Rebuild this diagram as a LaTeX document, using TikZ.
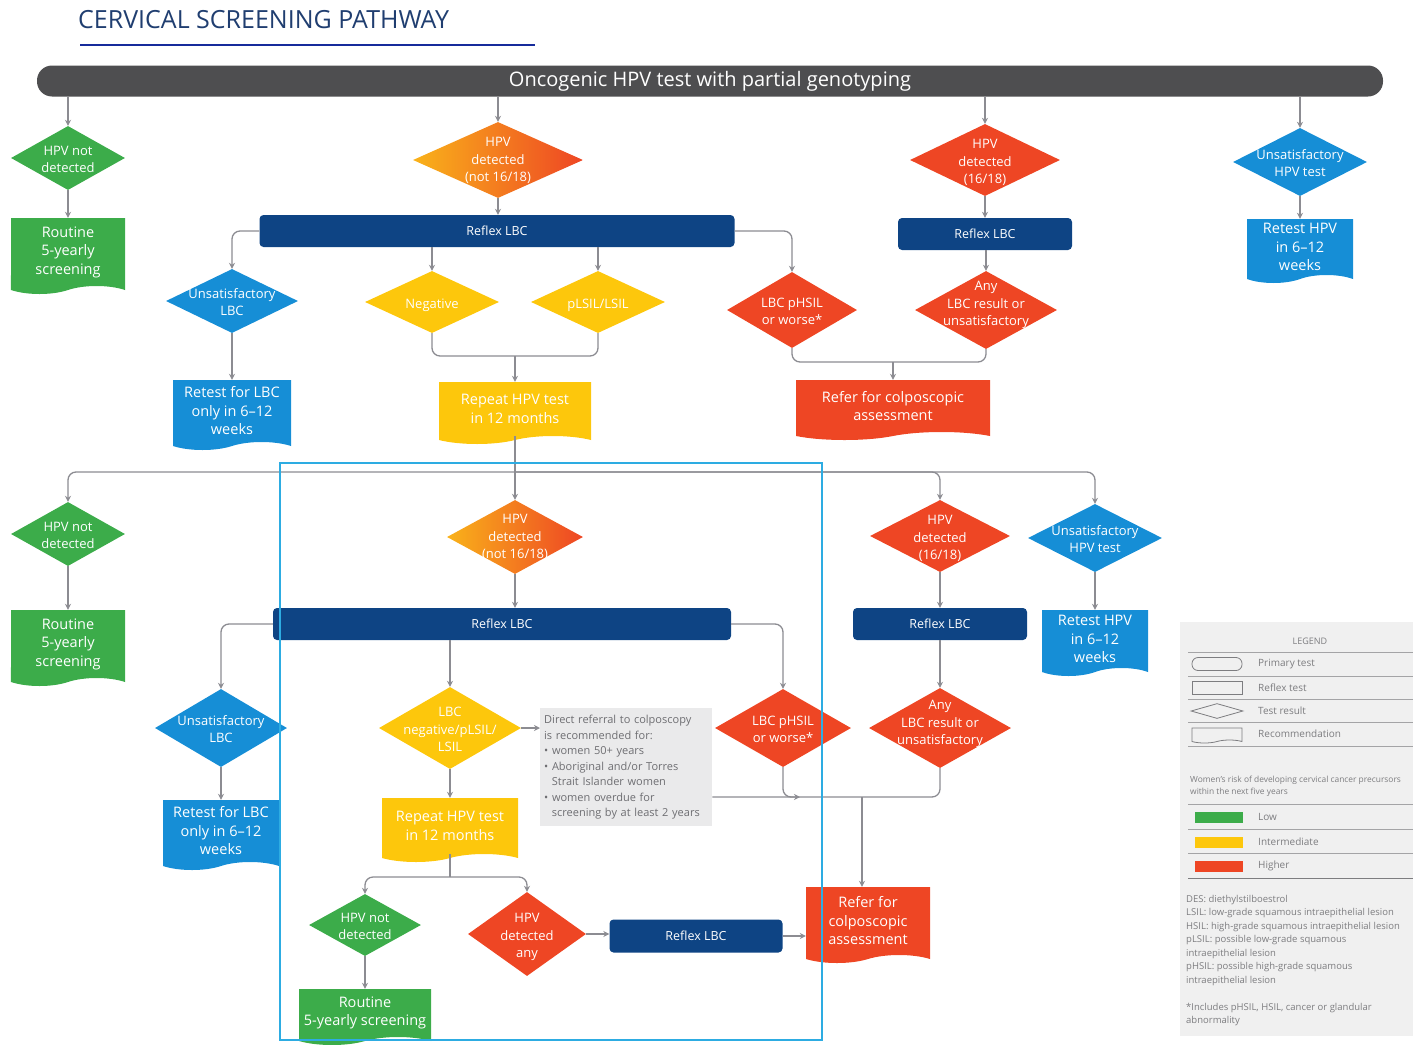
\documentclass[tikz,border=0pt]{standalone}
\usepackage{fontspec}
\setmainfont{Open Sans}
\usetikzlibrary{positioning, shapes.geometric, shapes.symbols, arrows.meta}

\definecolor{grn}{RGB}{60,172,74}
\definecolor{yel}{RGB}{253,199,12}
\definecolor{org}{RGB}{249,178,26}
\definecolor{red1}{RGB}{238,70,36}
\definecolor{blu}{RGB}{22,142,214}
\definecolor{navy}{RGB}{14,68,132}
\definecolor{bar}{RGB}{78,78,80}
\definecolor{lineg}{RGB}{140,140,146}
\definecolor{cyanf}{RGB}{45,172,226}
\definecolor{titleblue}{RGB}{32,62,112}
\definecolor{notebg}{RGB}{234,234,235}
\definecolor{notetxt}{RGB}{110,110,114}
\definecolor{legbg}{RGB}{240,240,240}
\definecolor{legtext}{RGB}{125,125,128}

% text of a diamond, kept out of the shape's size
\newcommand{\diatext}[2][0pt]{\smash{\raisebox{\dimexpr #1-5.5pt\relax}{\makebox[0pt]{\begin{tabular}{@{}c@{}}#2\end{tabular}}}}}

\begin{document}
\begin{tikzpicture}[x=1pt, y=-1pt,
        primary/.style={rectangle, rounded corners=15pt, fill=bar, text=white, minimum width=1346pt, minimum height=31pt, font=\fontsize{20}{22}\selectfont},
        reflex/.style={rectangle, rounded corners=4pt, fill=navy, text=white, minimum height=32pt, font=\fontsize{12.5}{16}\selectfont},
        result/.style={diamond, inner sep=0pt, text=white, font=\fontsize{13}{17.5}\selectfont},
        advice/.style={tape, tape bend top=none, tape bend height=8pt, inner sep=1pt, text=white, align=center, font=\fontsize{14.5}{18.5}\selectfont},
        conn/.style={draw=lineg, line width=1.3pt, rounded corners=8pt, -{Stealth[length=6pt, width=6pt]}},
        link/.style={draw=lineg, line width=1.3pt, rounded corners=8pt},
        legtxt/.style={text=legtext, font=\fontsize{10}{12}\selectfont, inner sep=0pt},
        legsep/.style={draw=legtext!70, line width=0.6pt},
        legshape/.style={draw=legtext, line width=0.8pt, inner sep=0pt}
    ]
    \useasboundingbox (0,0) rectangle (1413,1044);

    % Title
    \node[anchor=west, text=titleblue, font=\fontsize{25}{28}\selectfont, inner sep=0pt] (title) at (78,20) {CERVICAL SCREENING PATHWAY};
    \draw[titleblue!70!blue, line width=2.5pt] (80,45) -- (535,45);

    % Primary test
    \node[primary] (hpv1) at (710,81) {Oncogenic HPV test with partial genotyping};

    % First round results
    \node[result, fill=grn, minimum width=114pt, minimum height=64pt] (nd1) at (68,158) {\diatext{HPV not\\detected}};
    \node[result, left color=org, right color=red1, minimum width=170pt, minimum height=76pt] (dn1) at (498,160) {\diatext[2pt]{HPV\\detected\\(not 16/18)}};
    \node[result, fill=red1, minimum width=150pt, minimum height=72pt] (d16a) at (985,160) {\diatext{HPV\\detected\\(16/18)}};
    \node[result, fill=blu, minimum width=134pt, minimum height=68pt] (ua) at (1300,162) {\diatext{Unsatisfactory\\HPV test}};

    \node[advice, fill=grn, minimum width=114pt, minimum height=76pt] (rt1) at (68,252) {Routine\\5-yearly\\screening};
    \node[reflex, minimum width=475pt] (rlbc1) at (497,231) {Reflex LBC};
    \node[reflex, minimum width=174pt] (rlbc2) at (985,234) {Reflex LBC};
    \node[advice, fill=blu, minimum width=106pt, minimum height=64pt] (rha) at (1300,247) {Retest HPV\\in 6--12\\weeks};

    \node[result, fill=blu, minimum width=132pt, minimum height=64pt] (ul1) at (232,301) {\diatext{Unsatisfactory\\LBC}};
    \node[result, fill=yel, minimum width=134pt, minimum height=62pt] (neg1) at (432,302) {\diatext{Negative}};
    \node[result, fill=yel, minimum width=134pt, minimum height=62pt] (pl1) at (598,302) {\diatext{pLSIL/LSIL}};
    \node[result, fill=red1, minimum width=130pt, minimum height=76pt] (ph1) at (792,310) {\diatext{LBC pHSIL\\or worse*}};
    \node[result, fill=red1, minimum width=142pt, minimum height=78pt] (any1) at (986,310) {\diatext[8pt]{Any\\LBC result or\\unsatisfactory}};

    \node[advice, fill=blu, minimum width=118pt, minimum height=70pt] (rl1) at (232,411) {Retest for LBC\\only in 6--12\\weeks};
    \node[advice, fill=yel, minimum width=152pt, minimum height=62pt] (rep1) at (515,409) {Repeat HPV test\\in 12 months};
    \node[advice, fill=red1, minimum width=194pt, minimum height=60pt] (cr1) at (893,406) {Refer for colposcopic\\assessment};

    % Second round results
    \node[result, fill=grn, minimum width=114pt, minimum height=64pt] (nd2) at (68,534) {\diatext{HPV not\\detected}};
    \node[result, left color=org, right color=red1, minimum width=136pt, minimum height=74pt] (dn2) at (515,537) {\diatext[2pt]{HPV\\detected\\(not 16/18)}};
    \node[result, fill=red1, minimum width=140pt, minimum height=72pt] (d16b) at (940,536) {\diatext{HPV\\detected\\(16/18)}};
    \node[result, fill=blu, minimum width=134pt, minimum height=68pt] (ub) at (1095,538) {\diatext{Unsatisfactory\\HPV test}};

    \node[advice, fill=grn, minimum width=114pt, minimum height=76pt] (rt2) at (68,644) {Routine\\5-yearly\\screening};
    \node[reflex, minimum width=458pt] (rlbc3) at (502,624) {Reflex LBC};
    \node[reflex, minimum width=174pt] (rlbc4) at (940,624) {Reflex LBC};
    \node[advice, fill=blu, minimum width=106pt, minimum height=66pt] (rhb) at (1095,639) {Retest HPV\\in 6--12\\weeks};

    \node[result, fill=blu, minimum width=132pt, minimum height=78pt] (ul2) at (221,728) {\diatext{Unsatisfactory\\LBC}};
    \node[result, fill=yel, minimum width=142pt, minimum height=82pt] (lneg) at (450,728) {\diatext{LBC\\negative/pLSIL/\\LSIL}};
    \node[result, fill=red1, minimum width=136pt, minimum height=78pt] (ph2) at (783,728) {\diatext{LBC pHSIL\\or worse*}};
    \node[result, fill=red1, minimum width=142pt, minimum height=80pt] (any2) at (940,728) {\diatext[7pt]{Any\\LBC result or\\unsatisfactory}};
    \node[anchor=north west, fill=notebg, minimum width=172pt, minimum height=118pt, text width=164pt, inner sep=4pt, align=left, text=notetxt, font=\fontsize{11}{15.5}\selectfont] (note) at (540,708)
        {Direct referral to colposcopy\\is recommended for:\\\textbullet\ women 50+ years\\\textbullet\ Aboriginal and/or Torres\\\hspace*{0.7em}Strait Islander women\\\textbullet\ women overdue for\\\hspace*{0.7em}screening by at least 2 years};

    \node[advice, fill=blu, minimum width=116pt, minimum height=70pt] (rl2) at (221,831) {Retest for LBC\\only in 6--12\\weeks};
    \node[advice, fill=yel, minimum width=136pt, minimum height=64pt] (rep2) at (450,826) {Repeat HPV test\\in 12 months};
    \node[advice, fill=red1, minimum width=124pt, minimum height=76pt] (cr2) at (868,921) {Refer for\\colposcopic\\assessment};

    \node[result, fill=grn, minimum width=112pt, minimum height=62pt] (nd3) at (365,925) {\diatext{HPV not\\detected}};
    \node[result, fill=red1, minimum width=118pt, minimum height=84pt] (da) at (527,934) {\diatext{HPV\\detected\\any}};
    \node[reflex, minimum width=173pt, minimum height=33pt] (rlbc5) at (696,936) {Reflex LBC};
    \node[advice, fill=grn, minimum width=132pt, minimum height=56pt] (rt3) at (365,1013) {Routine\\5-yearly screening};

    % Junctions
    \coordinate (m1) at (515,356);
    \coordinate (m2) at (893,362);
    \coordinate (m3) at (515,472);
    \coordinate (m4) at (862,797);
    \coordinate (m5) at (800,797);
    \coordinate (m6) at (450,877);

    % Arrows, first round
    \draw[conn] (hpv1.south -| nd1.north) -- (nd1.north);
    \draw[conn] (hpv1.south -| dn1.north) -- (dn1.north);
    \draw[conn] (hpv1.south -| d16a.north) -- (d16a.north);
    \draw[conn] (hpv1.south -| ua.north) -- (ua.north);
    \draw[conn] (nd1.south) -- (rt1.north);
    \draw[conn] (dn1.south) -- (rlbc1.north -| dn1.south);
    \draw[conn] (d16a.south) -- (rlbc2.north);
    \draw[conn] (ua.south) -- (rha.north);
    \draw[conn] (rlbc1.west) -| (ul1.north);
    \draw[conn] (rlbc1.south -| neg1.north) -- (neg1.north);
    \draw[conn] (rlbc1.south -| pl1.north) -- (pl1.north);
    \draw[conn] (rlbc1.east) -| (ph1.north);
    \draw[conn] (rlbc2.south -| any1.north) -- (any1.north);
    \draw[conn] (ul1.south) -- (rl1.north);
    \draw[link] (neg1.south) |- (m1) -| (pl1.south);
    \draw[conn] (m1) -- (rep1.north);
    \draw[link] (ph1.south) |- (m2) -| (any1.south);
    \draw[conn] (m2) -- (cr1.north);

    % Arrows, second round
    \draw[link] (rep1.south) -- (m3);
    \draw[conn] (m3) -| (nd2.north);
    \draw[conn] (m3) -- (dn2.north);
    \draw[conn] (m3) -| (d16b.north);
    \draw[conn] (m3) -| (ub.north);
    \draw[conn] (nd2.south) -- (rt2.north);
    \draw[conn] (dn2.south) -- (rlbc3.north -| dn2.south);
    \draw[conn] (d16b.south) -- (rlbc4.north);
    \draw[conn] (ub.south) -- (rhb.north);
    \draw[conn] (rlbc3.west) -| (ul2.north);
    \draw[conn] (rlbc3.south -| lneg.north) -- (lneg.north);
    \draw[conn] (rlbc3.east) -| (ph2.north);
    \draw[conn] (rlbc4.south) -- (any2.north);
    \draw[conn] (ul2.south) -- (rl2.north);
    \draw[conn] (lneg.east) -- (note.west |- lneg.east);
    \draw[conn] (lneg.south) -- (rep2.north);
    \draw[link] (note.east |- m4) -| (any2.south);
    \draw[conn] (ph2.south) |- (m5);
    \draw[conn] (m4) -- (m4 |- cr2.north);
    \draw[link] (rep2.south) -- (m6);
    \draw[conn] (m6) -| (nd3.north);
    \draw[conn] (m6) -| (da.north);
    \draw[conn] (nd3.south) -- (rt3.north);
    \draw[conn] (da.east) -- (da.east -| rlbc5.west);
    \draw[conn] (rlbc5.east) -- (rlbc5.east -| cr2.west);

    % Highlight frame
    \draw[cyanf, line width=2.5pt] (280,463) rectangle (822,1040);

    % Legend
    \begin{scope}
        \clip (1180,622) rectangle (1413,1036);
        \fill[legbg] (1180,622) rectangle (1413,1036);
        \node[legtxt, font=\fontsize{9}{11}\selectfont] (legtitle) at (1310,641) {LEGEND};
        \foreach \y in {652,676,699,722,746,804,829,853}
            \draw[legsep] (1188,\y) -- (1413,\y);
        \draw[draw=legtext, line width=1pt] (1188,878) -- (1413,878);
        \node[legshape, rounded corners=6pt, minimum width=50pt, minimum height=13pt] (lgp) at (1217,664) {};
        \node[legshape, minimum width=50pt, minimum height=13pt] (lgr) at (1217,688) {};
        \node[legshape, diamond, minimum width=52pt, minimum height=15pt] (lgd) at (1217,711) {};
        \node[legshape, tape, tape bend top=none, tape bend height=3pt, minimum width=50pt, minimum height=15pt] (lgt) at (1217,734) {};
        \node[legtxt, anchor=west] (lgpt) at (1258,664) {Primary test};
        \node[legtxt, anchor=west] (lgrt) at (1258,688) {Reflex test};
        \node[legtxt, anchor=west] (lgdt) at (1258,711) {Test result};
        \node[legtxt, anchor=west] (lgtt) at (1258,734) {Recommendation};
        \node[legtxt, anchor=north west, align=left, font=\fontsize{8.4}{11.5}\selectfont] (risk) at (1190,776) {Women's risk of developing cervical cancer precursors\\within the next five years};
        \node[fill=grn, minimum width=48pt, minimum height=11pt, inner sep=0pt] (swl) at (1219,817) {};
        \node[fill=yel, minimum width=48pt, minimum height=11pt, inner sep=0pt] (swi) at (1219,842) {};
        \node[fill=red1, minimum width=48pt, minimum height=11pt, inner sep=0pt] (swh) at (1219,866) {};
        \node[legtxt, anchor=west] (swlt) at (1258,817) {Low};
        \node[legtxt, anchor=west] (swit) at (1258,842) {Intermediate};
        \node[legtxt, anchor=west] (swht) at (1258,866) {Higher};
        \node[legtxt, anchor=north west, align=left, font=\fontsize{9.5}{13.5}\selectfont] (abbr) at (1186,895)
            {DES: diethylstilboestrol\\LSIL: low-grade squamous intraepithelial lesion\\HSIL: high-grade squamous intraepithelial lesion\\pLSIL: possible low-grade squamous\\intraepithelial lesion\\pHSIL: possible high-grade squamous\\intraepithelial lesion\\[13.5pt]*Includes pHSIL, HSIL, cancer or glandular\\abnormality};
    \end{scope}
\end{tikzpicture}
\end{document}
